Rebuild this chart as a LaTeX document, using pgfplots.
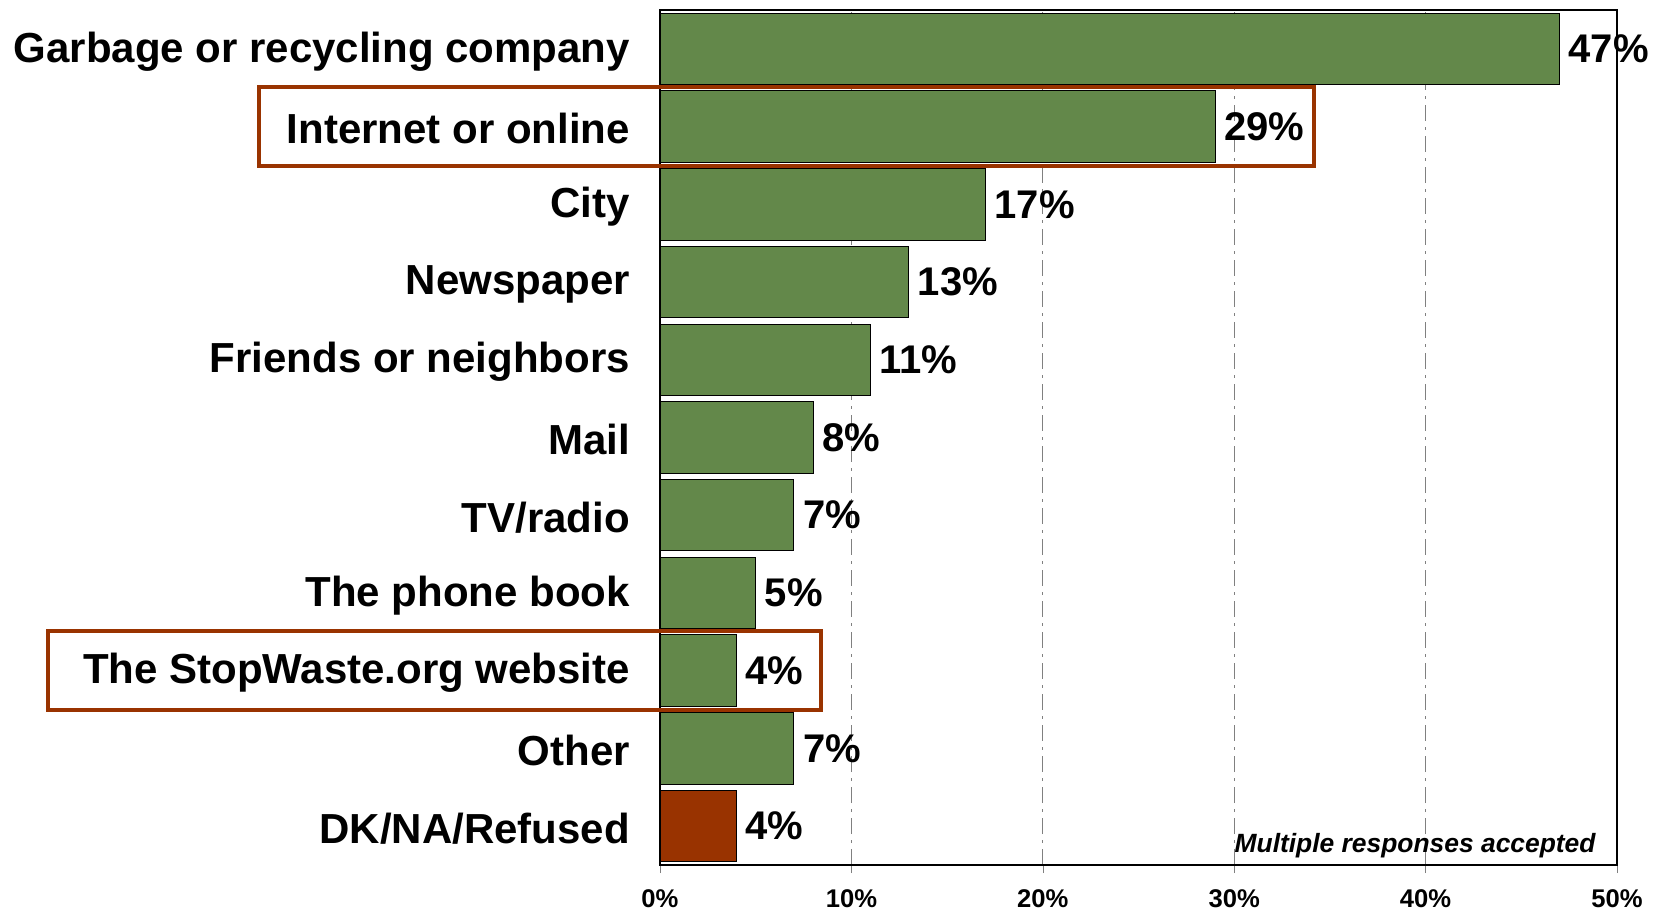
\documentclass[border=0pt]{standalone}
\usepackage{pgfplots}
\pgfplotsset{compat=1.18}
\usepackage{fontspec}
\setmainfont{Liberation Sans}
\definecolor{bargreen}{RGB}{99,136,74}
\definecolor{barred}{RGB}{153,51,0}
\begin{document}
\begin{tikzpicture}
\begin{axis}[
  name=ax,
  at={(0,0)}, anchor=south west,
  scale only axis,
  width=478.5pt, height=427.5pt,
  xbar, bar shift=0pt, bar width=0.92,
  xmin=0, xmax=50,
  ymin=-0.5, ymax=10.5,
  xtick={0,10,20,30,40,50},
  xticklabel={\pgfmathprintnumber{\tick}\%},
  xticklabel style={font=\fontsize{12.8}{14}\selectfont\bfseries, yshift=-5pt},
  /pgf/number format/assume math mode=true,
  xtick pos=bottom,
  xtick align=outside,
  major tick length=4pt,
  xmajorgrids,
  grid style={gray, line width=0.6pt, dash pattern=on 8pt off 3pt on 1.5pt off 3pt},
  ytick={0,...,10},
  yticklabels={DK/NA/Refused, Other, The StopWaste.org website, The phone book, TV/radio, Mail, Friends or neighbors, Newspaper, City, Internet or online, Garbage or recycling company},
  yticklabel style={font=\fontsize{21}{24}\selectfont\bfseries, xshift=-7.5pt, yshift=-1.2pt},
  ytick style={draw=none},
  axis line style={black, line width=0.6pt},
  nodes near coords={\pgfmathprintnumber{\pgfplotspointmeta}\%},
  nodes near coords style={font=\fontsize{20}{24}\selectfont\bfseries, anchor=west, xshift=1pt},
  clip=false,
]
\addplot[fill=bargreen, draw=black, line width=0.5pt] coordinates {
  (47,10) (29,9) (17,8) (13,7) (11,6) (8,5) (7,4) (5,3) (4,2) (7,1)
};
\addplot[fill=barred, draw=black, line width=0.5pt] coordinates {
  (4,0)
};
\draw[barred, line width=2pt] (axis cs:-20.95,8.49) rectangle (axis cs:34.17,9.51);
\draw[barred, line width=2pt] (axis cs:-32.0,1.49) rectangle (axis cs:8.41,2.51);
\node[anchor=south east, inner sep=0pt, font=\fontsize{13.2}{15}\selectfont\bfseries\itshape] at (rel axis cs:0.978,0.008) {Multiple responses accepted};
\end{axis}
\pgfresetboundingbox
\path[use as bounding box] ([xshift=-330pt,yshift=-24pt]ax.south west) rectangle ([xshift=18.5pt,yshift=5pt]ax.north east);
\end{tikzpicture}
\end{document}
